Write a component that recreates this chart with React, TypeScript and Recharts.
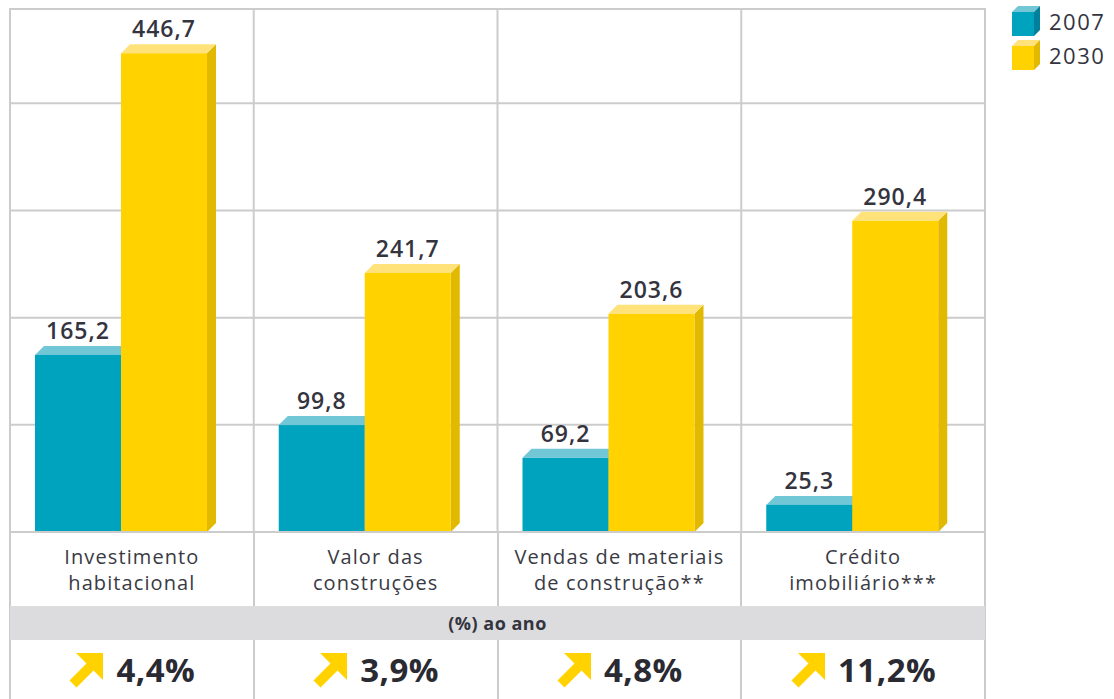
import React from 'react';
import { BarChart, Bar, XAxis, YAxis, CartesianGrid, LabelList } from 'recharts';

const categories = [
  'Investimento habitacional',
  'Valor das construções',
  'Vendas de materiais de construção**',
  'Crédito imobiliário***',
];
const categoryLines = [
  ['Investimento', 'habitacional'],
  ['Valor das', 'construções'],
  ['Vendas de materiais', 'de construção**'],
  ['Crédito', 'imobiliário***'],
];
const values2007 = [165.2, 99.8, 69.2, 25.3];
const values2030 = [446.7, 241.7, 203.6, 290.4];
const growthPerYear = ['4,4%', '3,9%', '4,8%', '11,2%'];
const yTicks = [0, 100, 200, 300, 400];
const seriesNames = ['2007', '2030'];

const data = categories.map((name, i) => ({ name, y2007: values2007[i], y2030: values2030[i] }));

const W = 1114;
const H = 699;
const PLOT_LEFT = 10;
const PLOT_RIGHT = 985;
const PLOT_TOP = 9;
const PLOT_BOTTOM = 532;
const DEPTH = 9;
const SHIFT = -11; // bars sit a little left of the band centre
const GRID = '#cccccc';
const TEXT = '#34343f';

const palettes = [
  { front: '#00a3bd', top: '#72c7d7', side: '#00809a' },
  { front: '#ffd200', top: '#ffe27a', side: '#e0b900' },
];

function Bar3D(props: any) {
  const { x, y, width, height, palette } = props;
  if (!height || height <= 0) return null;
  const x0 = x + SHIFT;
  const x1 = x0 + width;
  const d = DEPTH;
  return (
    <g>
      <polygon
        points={`${x1},${y} ${x1 + d},${y - d} ${x1 + d},${y + height - d} ${x1},${y + height}`}
        fill={palette.side}
      />
      <polygon points={`${x0},${y} ${x0 + d},${y - d} ${x1 + d},${y - d} ${x1},${y}`} fill={palette.top} />
      <rect x={x0} y={y} width={width} height={height} fill={palette.front} />
    </g>
  );
}

function ValueLabel(props: any) {
  const { x, y, width, value } = props;
  return (
    <text
      x={x + SHIFT + width / 2}
      y={y - 16}
      textAnchor="middle"
      fontSize={23}
      fontWeight={600}
      letterSpacing={1}
      fill={TEXT}
    >
      {String(value).replace('.', ',')}
    </text>
  );
}

function CategoryTick(props: any) {
  const { x, y, payload } = props;
  const lines = categoryLines[payload.index] || [payload.value];
  return (
    <g>
      {lines.map((line: string, i: number) => (
        <text key={i} x={x} y={y + 32 + i * 26} textAnchor="middle" fontSize={20} letterSpacing={1.1} fill="#3a3a44">
          {line}
        </text>
      ))}
    </g>
  );
}

function Cube({ palette }: { palette: any }) {
  return (
    <svg width={30} height={30} style={{ display: 'block' }}>
      <polygon points="0,6 6,0 28,0 22,6" fill={palette.top} />
      <polygon points="22,6 28,0 28,24 22,30" fill={palette.side} />
      <rect x={0} y={6} width={22} height={24} fill={palette.front} />
    </svg>
  );
}

function LegendBox() {
  return (
    <div style={{ position: 'absolute', left: 1012, top: 4 }}>
      {seriesNames.map((name, i) => (
        <div key={name} style={{ display: 'flex', alignItems: 'center', height: 34 }}>
          <Cube palette={palettes[i]} />
          <span style={{ marginLeft: 7, fontSize: 22, color: TEXT, letterSpacing: 1.5 }}>{name}</span>
        </div>
      ))}
    </div>
  );
}

function Arrow() {
  return (
    <svg width={36} height={36} style={{ display: 'block' }}>
      <polygon points="8,1 35,1 35,28" fill="#ffd200" />
      <line x1={5} y1={32} x2={24} y2={13} stroke="#ffd200" strokeWidth={10} />
    </svg>
  );
}

export default function App() {
  const colW = (PLOT_RIGHT - PLOT_LEFT) / categories.length;
  return (
    <div style={{ position: 'absolute', left: 0, top: 0, width: W, height: H, fontFamily: '"Open Sans", sans-serif', background: '#fff' }}>
      <BarChart
        width={W}
        height={H}
        data={data}
        barGap={0}
        margin={{ top: PLOT_TOP, right: W - PLOT_RIGHT, bottom: H - PLOT_BOTTOM - 74, left: PLOT_LEFT }}
      >
        <CartesianGrid
          stroke={GRID}
          strokeWidth={2}
          verticalCoordinatesGenerator={({ offset }: any) =>
            [1, 2, 3].map((i) => offset.left + (i * offset.width) / 4)
          }
        />
        <XAxis
          dataKey="name"
          height={74}
          tickSize={0}
          tickMargin={0}
          axisLine={{ stroke: GRID, strokeWidth: 2 }}
          tick={<CategoryTick />}
          interval={0}
        />
        <YAxis hide domain={[0, 488]} ticks={yTicks} />
        <Bar
          dataKey="y2007"
          name={seriesNames[0]}
          barSize={86}
          isAnimationActive={false}
          shape={(p: any) => <Bar3D {...p} palette={palettes[0]} />}
        >
          <LabelList dataKey="y2007" content={(p: any) => <ValueLabel {...p} />} />
        </Bar>
        <Bar
          dataKey="y2030"
          name={seriesNames[1]}
          barSize={86}
          isAnimationActive={false}
          shape={(p: any) => <Bar3D {...p} palette={palettes[1]} />}
        >
          <LabelList dataKey="y2030" content={(p: any) => <ValueLabel {...p} />} />
        </Bar>
      </BarChart>

      <LegendBox />

      {/* frame and table underneath the plot */}
      <div
        style={{
          position: 'absolute',
          left: PLOT_LEFT - 1,
          top: PLOT_TOP - 1,
          width: PLOT_RIGHT - PLOT_LEFT + 2,
          height: H - PLOT_TOP + 1,
          borderLeft: `2px solid ${GRID}`,
          borderRight: `2px solid ${GRID}`,
          borderTop: `2px solid ${GRID}`,
          boxSizing: 'border-box',
          pointerEvents: 'none',
        }}
      />
      {[1, 2, 3].map((i) => (
        <React.Fragment key={i}>
          <div style={{ position: 'absolute', left: PLOT_LEFT + i * colW - 1, top: PLOT_BOTTOM, width: 2, height: 74, background: GRID }} />
          <div style={{ position: 'absolute', left: PLOT_LEFT + i * colW - 1, top: 640, width: 2, height: H - 640, background: GRID }} />
        </React.Fragment>
      ))}
      <div
        style={{
          position: 'absolute',
          left: PLOT_LEFT,
          top: 606,
          width: PLOT_RIGHT - PLOT_LEFT,
          height: 34,
          background: '#dcdcde',
          display: 'flex',
          alignItems: 'center',
          justifyContent: 'center',
          fontSize: 18,
          fontWeight: 700,
          color: TEXT,
          letterSpacing: 0.5,
        }}
      >
        (%) ao ano
      </div>
      {growthPerYear.map((g, i) => (
        <div
          key={i}
          style={{
            position: 'absolute',
            left: PLOT_LEFT + i * colW,
            top: 640,
            width: colW,
            height: H - 640,
            display: 'flex',
            alignItems: 'center',
            justifyContent: 'center',
          }}
        >
          <Arrow />
          <span style={{ marginLeft: 12, fontSize: 33, fontWeight: 700, color: '#2a2a33', lineHeight: 1, letterSpacing: 0.5 }}>{g}</span>
        </div>
      ))}
    </div>
  );
}
